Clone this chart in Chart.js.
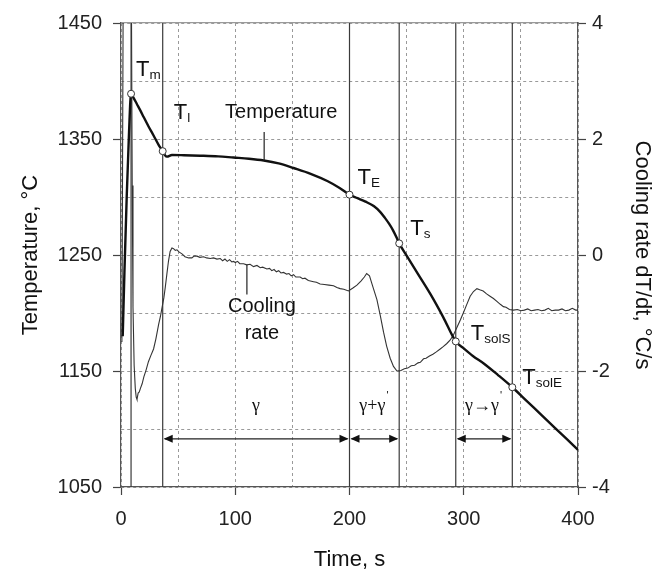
<!DOCTYPE html>
<html>
<head>
<meta charset="utf-8">
<script src="https://cdn.jsdelivr.net/npm/chart.js@4.4.1/dist/chart.umd.min.js"></script>
<style>
  html, body { margin: 0; padding: 0; background: #fff; }
  #wrap { width: 661px; height: 573px; position: relative; }
</style>
</head>
<body>
<div id="wrap"><canvas id="chart"></canvas></div>
<script>
// temperature curve (time s -> T, degC)
const tempTime = [1.5, 3, 5, 7, 8.8, 11, 14, 17, 19.8, 24,
  28.5, 32.9, 36.5, 38.5, 40.2, 44.6, 55, 69.4, 85, 98.5,
  112, 125, 138, 151, 166, 181, 191, 200, 207, 214,
  221.5, 227, 231, 234.6, 238, 241, 243.5, 250, 260, 271,
  282, 293, 300, 308, 317.5, 330, 342.5, 355, 367, 380,
  390.5, 400];
const tempVal = [1180, 1235, 1300, 1355, 1389, 1385.5, 1380, 1374.5, 1369, 1361,
  1353, 1345, 1339.5, 1336, 1334.8, 1336.2, 1336, 1335.6, 1335, 1334,
  1333, 1331.5, 1329, 1325, 1320, 1313.6, 1308, 1302, 1299, 1296,
  1292, 1287, 1282, 1277, 1271.5, 1265.5, 1260, 1249.5, 1233.5, 1216,
  1196.5, 1175.5, 1169.5, 1163, 1156.5, 1146.5, 1136, 1124.3, 1113, 1100.8,
  1091, 1082];

// cooling rate curve (time s -> dT/dt, degC/s)
const rateTime = [0.8, 2, 9, 9.8, 10.5, 11.5, 12.5, 13.3, 14, 15,
  16, 17, 18.5, 20, 22, 24, 26, 28.5, 30.5, 32.9,
  34.5, 36, 37.5, 38.8, 40.2, 41.6, 43, 44.6, 46, 47.5,
  49, 51, 53.4, 56, 59.2, 62, 64, 66.5, 69, 72.3,
  75, 78.1, 81, 84, 86.9, 89, 91, 93, 95, 97,
  98.5, 100, 102, 104, 107.3, 110, 113, 116, 119, 121.9,
  124, 127.7, 130, 132, 134, 136, 138, 140, 142.3, 145,
  147, 149, 151, 153, 156.8, 159, 161, 164, 168.5, 171,
  174.3, 178, 182, 186, 189, 191.8, 195, 199.1, 203, 206.5,
  210, 213, 215, 217.5, 220, 224, 227, 229.8, 232.5, 235.6,
  238.5, 241.5, 245, 248, 251, 254, 257, 260, 262, 264.8,
  267, 270, 273, 276, 279.4, 282, 285, 288, 291, 294,
  297, 299.8, 302.5, 305.6, 308.5, 311.5, 314, 317, 320, 323,
  326, 329, 332, 334.7, 337, 340, 343.5, 347, 350, 353,
  356, 359, 362, 365, 368, 371, 374, 377, 380, 383,
  386, 389, 392, 395, 398, 400];
const rateVal = [-1.5, 5, 5, 1.2, -0.9, -1.9, -2.3, -2.45, -2.49, -2.38,
  -2.36, -2.3, -2.22, -2.1, -1.98, -1.84, -1.74, -1.62, -1.45, -1.2,
  -1.06, -0.9, -0.74, -0.55, -0.32, -0.1, 0.06, 0.12, 0.11, 0.08,
  0.09, 0.05, 0.02, -0.03, -0.05, -0.05, -0.02, -0.02, -0.04, -0.03,
  -0.05, -0.06, -0.05, -0.07, -0.06, -0.1, -0.07, -0.11, -0.08, -0.12,
  -0.11, -0.13, -0.11, -0.15, -0.15, -0.17, -0.16, -0.2, -0.18, -0.22,
  -0.21, -0.24, -0.23, -0.27, -0.25, -0.29, -0.27, -0.31, -0.3, -0.33,
  -0.32, -0.36, -0.34, -0.38, -0.38, -0.41, -0.4, -0.44, -0.46, -0.47,
  -0.5, -0.51, -0.52, -0.53, -0.56, -0.58, -0.59, -0.62, -0.57, -0.52,
  -0.45, -0.38, -0.32, -0.36, -0.52, -0.77, -1.05, -1.33, -1.57, -1.78,
  -1.92, -2.0, -1.99, -1.96, -1.95, -1.91, -1.9, -1.86, -1.85, -1.79,
  -1.78, -1.74, -1.71, -1.67, -1.62, -1.58, -1.53, -1.47, -1.38, -1.25,
  -1.12, -0.99, -0.86, -0.71, -0.63, -0.58, -0.6, -0.62, -0.67, -0.71,
  -0.75, -0.8, -0.85, -0.89, -0.9, -0.94, -0.95, -0.94, -0.96, -0.95,
  -0.93, -0.96, -0.95, -0.94, -0.96, -0.95, -0.92, -0.96, -0.95, -0.95,
  -0.93, -0.96, -0.95, -0.92, -0.95, -0.95];

// characteristic points
const pointMain = ['T', 'T', 'T', 'T', 'T', 'T'];
const pointSub = ['m', 'l', 'E', 's', 'solS', 'solE'];
const pointTime = [8.8, 36.5, 200, 243.5, 293, 342.5];
const pointTemp = [1389, 1339.5, 1302, 1260, 1175.5, 1136];

// phase ranges (indexes into the points above)
const phaseFrom = [1, 2, 4];
const phaseTo = [2, 3, 5];
const phaseLabel = ['γ', 'γ+γ', 'γ→γ'];
const phasePrime = [false, true, true];

// ticks
const xLabels = [0, 100, 200, 300, 400];
const yLabels = [1050, 1150, 1250, 1350, 1450];
const y2Labels = [-4, -2, 0, 2, 4];

const FONT = '"Liberation Sans", Arial, sans-serif';
const SERIF = '"Liberation Serif", "Times New Roman", serif';

const tempData = tempTime.map((t, i) => ({ x: t, y: tempVal[i] }));
const rateData = rateTime.map((t, i) => ({ x: t, y: rateVal[i] }));
const markData = pointTime.map((t, i) => ({ x: t, y: pointTemp[i] }));

const verticals = pointTime.map(t => ({
    data: [{ x: t, y: 1050 }, { x: t, y: 1450 }],
    borderColor: '#3a3a3a',
    borderWidth: 1.2,
    pointRadius: 0,
    yAxisID: 'y',
    order: 3
}));

const tickColor = list => ctx => (ctx.tick && list.includes(ctx.tick.value)) ? '#444' : 'rgba(0,0,0,0)';

// labels, leader lines and phase arrows
const annotate = {
    id: 'annotate',
    afterDatasetsDraw(chart) {
        const { ctx } = chart;
        const x = chart.scales.x, y = chart.scales.y, y2 = chart.scales.y2;
        ctx.save();
        ctx.fillStyle = '#111';
        ctx.strokeStyle = '#222';
        ctx.lineWidth = 1.2;

        // leader lines
        ctx.beginPath();
        ctx.moveTo(x.getPixelForValue(125.3), y.getPixelForValue(1356));
        ctx.lineTo(x.getPixelForValue(125.3), y.getPixelForValue(1331.5));
        ctx.moveTo(x.getPixelForValue(110.2), y2.getPixelForValue(-0.17));
        ctx.lineTo(x.getPixelForValue(110.2), y2.getPixelForValue(-0.68));
        ctx.stroke();

        ctx.font = '20px ' + FONT;
        ctx.textAlign = 'center';
        ctx.textBaseline = 'alphabetic';
        ctx.fillText('Temperature', x.getPixelForValue(140.2), y.getPixelForValue(1368.5));
        ctx.fillText('Cooling', x.getPixelForValue(123.3), y2.getPixelForValue(-0.99));
        ctx.fillText('rate', x.getPixelForValue(123.3), y2.getPixelForValue(-1.45));

        // point names with subscripts
        const shift = [[5, -18], [11, -32], [8, -11], [11, -8], [15, -1], [10, -3]];
        ctx.textAlign = 'left';
        pointTime.forEach((t, i) => {
            const px = x.getPixelForValue(t) + shift[i][0];
            const py = y.getPixelForValue(pointTemp[i]) + shift[i][1];
            ctx.font = '22px ' + FONT;
            ctx.fillText(pointMain[i], px, py);
            const w = ctx.measureText(pointMain[i]).width;
            ctx.font = '13.5px ' + FONT;
            ctx.fillText(pointSub[i], px + w, py + 3);
        });

        // phase arrows
        const ay = y2.getPixelForValue(-3.17);
        const ly = y2.getPixelForValue(-2.69);
        phaseFrom.forEach((a, i) => {
            const x1 = x.getPixelForValue(pointTime[a]);
            const x2 = x.getPixelForValue(pointTime[phaseTo[i]]);
            ctx.beginPath();
            ctx.moveTo(x1 + 2, ay);
            ctx.lineTo(x2 - 2, ay);
            ctx.stroke();
            ctx.beginPath();
            ctx.moveTo(x1 + 1, ay);
            ctx.lineTo(x1 + 10, ay - 4);
            ctx.lineTo(x1 + 10, ay + 4);
            ctx.closePath();
            ctx.moveTo(x2 - 1, ay);
            ctx.lineTo(x2 - 10, ay - 4);
            ctx.lineTo(x2 - 10, ay + 4);
            ctx.closePath();
            ctx.fill();

            ctx.font = '18px ' + SERIF;
            const w = ctx.measureText(phaseLabel[i]).width;
            const total = w + (phasePrime[i] ? 4 : 0);
            const sx = (x1 + x2) / 2 - total / 2;
            ctx.fillText(phaseLabel[i], sx, ly);
            if (phasePrime[i]) {
                ctx.font = '11px ' + FONT;
                ctx.fillText("'", sx + w + 1, ly - 12);
            }
        });
        ctx.restore();
    }
};

new Chart(document.getElementById('chart'), {
    type: 'line',
    data: {
        datasets: [
            {
                data: markData,
                showLine: false,
                pointRadius: 3.5,
                pointBackgroundColor: '#fff',
                pointBorderColor: '#333',
                pointBorderWidth: 1,
                yAxisID: 'y',
                order: 0
            },
            {
                data: tempData,
                borderColor: '#111',
                borderWidth: 2.4,
                pointRadius: 0,
                cubicInterpolationMode: 'monotone',
                yAxisID: 'y',
                order: 1
            },
            {
                data: rateData,
                borderColor: '#333',
                borderWidth: 1.1,
                pointRadius: 0,
                tension: 0,
                yAxisID: 'y2',
                order: 2
            },
            ...verticals
        ]
    },
    options: {
        responsive: true,
        maintainAspectRatio: false,
        animation: false,
        layout: { padding: 0 },
        plugins: { legend: { display: false }, tooltip: { enabled: false } },
        scales: {
            x: {
                type: 'linear',
                position: 'bottom',
                min: 0, max: 400,
                afterFit: s => { s.height = 86; },
                ticks: {
                    stepSize: 50, autoSkip: false, maxRotation: 0, padding: 12,
                    color: '#222', font: { family: FONT, size: 20 },
                    callback: v => xLabels.includes(v) ? v : ''
                },
                grid: { color: '#9a9a9a', lineWidth: 1, tickLength: 8, tickColor: tickColor(xLabels), tickWidth: 1.2 },
                border: { color: '#555', width: 1.2, dash: [3, 3] },
                title: { display: true, text: 'Time, s', color: '#111', font: { family: FONT, size: 22 }, padding: { top: 0, bottom: 0 } }
            },
            x2: {
                type: 'linear',
                position: 'top',
                min: 0, max: 400,
                afterFit: s => { s.height = 16; },
                ticks: { display: false },
                grid: { display: false },
                border: { color: '#9a9a9a', width: 1.2 }
            },
            y: {
                position: 'left',
                min: 1050, max: 1450,
                afterFit: s => { s.width = 121; },
                ticks: {
                    stepSize: 50, autoSkip: false, padding: 11,
                    color: '#222', font: { family: FONT, size: 20 },
                    callback: v => yLabels.includes(v) ? v : ''
                },
                grid: { color: '#9a9a9a', lineWidth: 1, tickLength: 8, tickColor: tickColor(yLabels), tickWidth: 1.2 },
                border: { color: '#555', width: 1.2, dash: [3, 3] },
                title: { display: true, text: 'Temperature, °C', color: '#111', font: { family: FONT, size: 22 }, padding: { top: 18, bottom: 0 } }
            },
            y2: {
                position: 'right',
                min: -4, max: 4,
                afterFit: s => { s.width = 83; },
                ticks: {
                    stepSize: 1, autoSkip: false, padding: 6,
                    color: '#222', font: { family: FONT, size: 20 },
                    callback: v => y2Labels.includes(v) ? v : ''
                },
                grid: { drawOnChartArea: false, tickLength: 8, tickColor: tickColor(y2Labels), tickWidth: 1.2 },
                border: { color: '#555', width: 1.2 },
                title: { display: true, text: 'Cooling rate dT/dt, °C/s', color: '#111', font: { family: FONT, size: 22 }, padding: { top: 6, bottom: 0 } }
            }
        }
    },
    plugins: [annotate]
});
</script>
</body>
</html>
